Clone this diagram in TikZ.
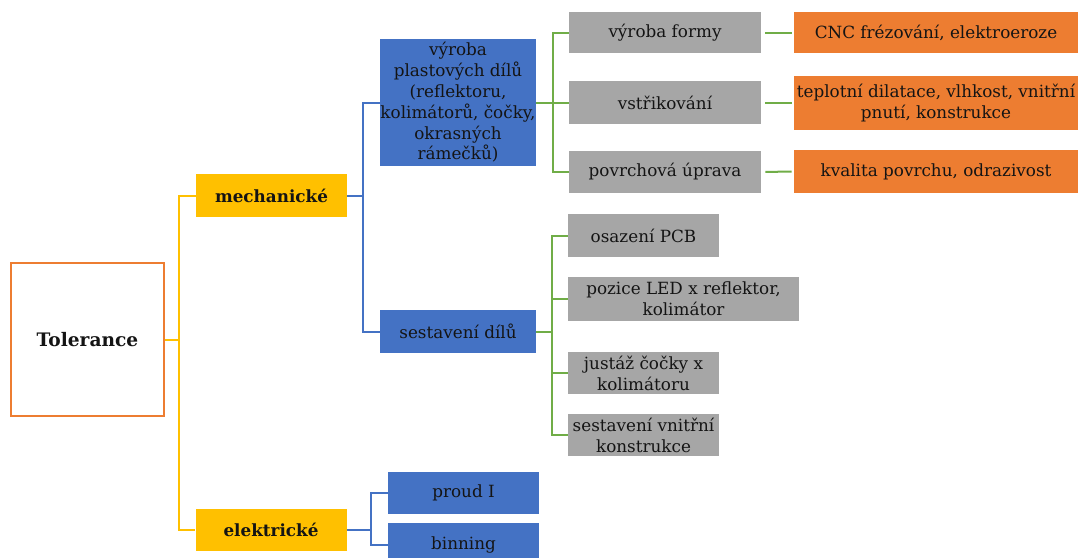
\documentclass[tikz,border=0pt]{standalone}
\usepackage{fontspec}
\setmainfont{DejaVu Serif}
\definecolor{cOrange}{RGB}{237,125,49}
\definecolor{cYellow}{RGB}{255,192,0}
\definecolor{cBlue}{RGB}{68,114,196}
\definecolor{cGrey}{RGB}{166,166,166}
\definecolor{cGreen}{RGB}{112,173,71}
\tikzset{
  box/.style={inner sep=0pt, align=center, text=black!92, font=\fontsize{8.4}{10.4}\selectfont},
  rootbox/.style={box, draw=cOrange, line width=1pt, fill=white, font=\fontsize{9.3}{10.4}\selectfont\bfseries},
  catbox/.style={box, fill=cYellow, minimum width=75.5pt, minimum height=21.5pt, font=\fontsize{8.4}{10.4}\selectfont\bfseries},
  partbox/.style={box, fill=cBlue, minimum width=78pt, minimum height=21.5pt},
  stagebox/.style={box, fill=cGrey, minimum width=75.5pt, minimum height=21.5pt},
  causebox/.style={box, fill=cOrange, minimum width=142pt, minimum height=21.5pt},
  yline/.style={draw=cYellow, line width=1pt},
  bline/.style={draw=cBlue, line width=1pt},
  gline/.style={draw=cGreen, line width=1pt}
}

\begin{document}
\begin{tikzpicture}[x=0.5pt, y=-0.5pt]
    \useasboundingbox (0,0) rectangle (1079,557);

    \node[rootbox, minimum width=76.5pt, minimum height=76.5pt] (tol) at (87.5,339.5) {Tolerance};

    \node[catbox] (mech) at (271.5,195.5) {mechanické};
    \node[catbox, minimum height=21pt] (elek) at (271,530) {elektrické};

    \node[partbox, minimum height=63.5pt] (vyr) at (458,102.5) {výroba\\plastových dílů\\(reflektoru,\\kolimátorů, čočky,\\okrasných\\rámečků)};
    \node[partbox] (sest) at (458,331.5) {sestavení dílů};
    \node[partbox, minimum width=75.5pt, minimum height=21pt] (proud) at (463.5,493) {proud I};
    \node[partbox, minimum width=75.5pt] (bin) at (463.5,544.5) {binning};

    \node[stagebox, minimum width=96pt, minimum height=20.5pt] (forma) at (665,32.5) {výroba formy};
    \node[stagebox, minimum width=96pt] (vstrik) at (665,102.5) {vstřikování};
    \node[stagebox, minimum width=96pt, minimum height=21pt] (povrch) at (665,172) {povrchová úprava};

    \node[causebox, minimum height=20.5pt] (cnc) at (936,32.5) {CNC frézování, elektroeroze};
    \node[causebox, minimum height=27pt] (tepl) at (936,103) {teplotní dilatace, vlhkost, vnitřní\\pnutí, konstrukce};
    \node[causebox] (kval) at (936,171.5) {kvalita povrchu, odrazivost};

    \node[stagebox] (osaz) at (643.5,235.5) {osazení PCB};
    \node[stagebox, minimum width=115.5pt, minimum height=22pt] (pozice) at (683.5,299) {pozice LED x reflektor,\\kolimátor};
    \node[stagebox, minimum height=21pt] (justaz) at (643.5,373) {justáž čočky x\\kolimátoru};
    \node[stagebox, minimum height=21pt] (vnitr) at (643.5,435) {sestavení vnitřní\\konstrukce};

    \coordinate (tfork) at (179,339.5);
    \draw[yline] (tol.east) -- (tfork) |- (mech.west);
    \draw[yline] (tfork) |- (elek.west);

    \coordinate (mfork) at (363,195.5);
    \draw[bline] (mech.east) -- (mfork) |- (vyr.west);
    \draw[bline] (mfork) |- (sest.west);

    \coordinate (efork) at (371,530);
    \draw[bline] (elek.east) -- (efork) |- (proud.west);
    \draw[bline] (efork) |- (bin.west);

    \coordinate (vfork) at (553,102.5);
    \draw[gline] (vyr.east) -- (vfork) |- (forma.west);
    \draw[gline] (vfork) -- (vstrik.west);
    \draw[gline] (vfork) |- (povrch.west);

    \coordinate (sfork) at (552,331.5);
    \draw[gline] (sest.east) -- (sfork) |- (osaz.west);
    \foreach \n in {pozice,justaz,vnitr}
        \draw[gline] (sfork) |- (\n.west);

    \draw[gline, shorten <=2pt, shorten >=1pt] (forma.east) -- (cnc.west);
    \draw[gline, shorten <=2pt, shorten >=1pt] (vstrik.east |- tepl.west) -- (tepl.west);
    \draw[gline, shorten <=2pt, shorten >=1pt] (povrch.east) -- (kval.west);
\end{tikzpicture}
\end{document}
